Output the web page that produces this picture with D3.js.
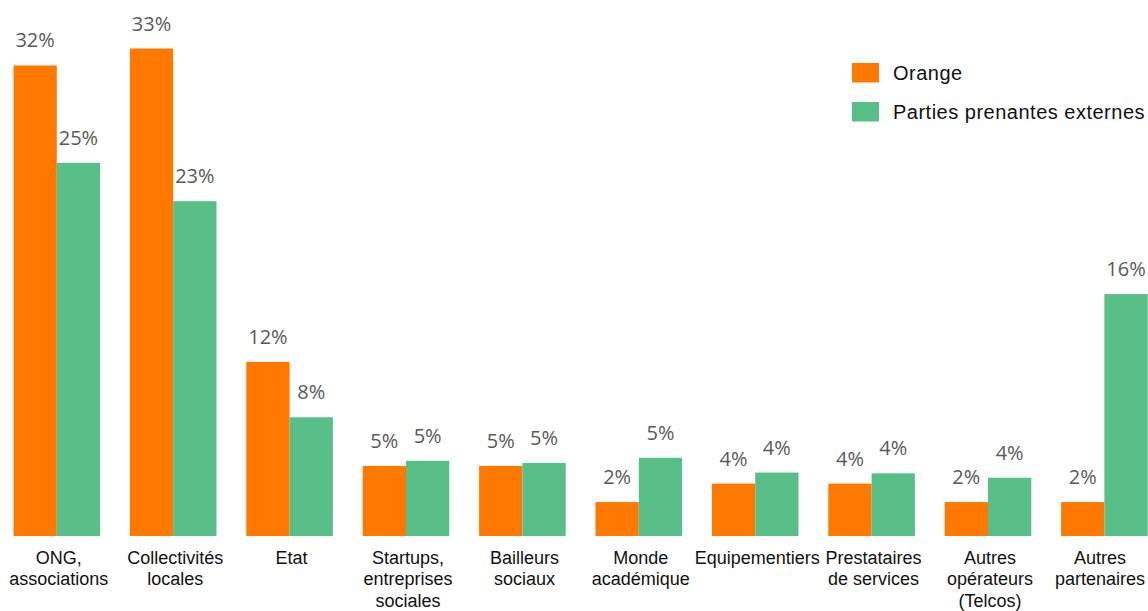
<!DOCTYPE html>
<html>
<head>
<meta charset="utf-8">
<script src="https://cdn.jsdelivr.net/npm/d3@7"></script>
<style>
  html, body { margin: 0; padding: 0; background: #fff; }
  svg { display: block; }
</style>
</head>
<body>
<svg id="chart" width="1148" height="611"></svg>
<script>
var categories = [
    "ONG,\nassociations",
    "Collectivités\nlocales",
    "Etat",
    "Startups,\nentreprises\nsociales",
    "Bailleurs\nsociaux",
    "Monde\nacadémique",
    "Equipementiers",
    "Prestataires\nde services",
    "Autres\nopérateurs\n(Telcos)",
    "Autres\npartenaires"
];

var seriesNames = ["Orange", "Parties prenantes externes"];
var seriesColors = ["#FF7900", "#58BF88"];

// (bar heights), labels are rounded
var orangeValues = [31.9, 33.05, 11.8, 4.75, 4.75, 2.3, 3.55, 3.55, 2.3, 2.3];
var externalValues = [25.3, 22.7, 8.05, 5.1, 4.95, 5.3, 4.3, 4.25, 3.95, 16.4];

var BASELINE = 536,
    TOP = 5,
    WIDTH = 1148;

var svg = d3.select('#chart');

var rows = categories.map(function (c, i) {
    return { cat: c, values: [orangeValues[i], externalValues[i]] };
});

var x0 = d3.scaleBand()
    .domain(categories)
    .range([13.5, 1147.7])
    .paddingInner(0.256)
    .paddingOuter(0);

var x1 = d3.scaleBand()
    .domain(d3.range(seriesNames.length))
    .range([0, x0.bandwidth()])
    .padding(0);

var y = d3.scaleLinear()
    .domain([0, 36])
    .range([BASELINE, TOP]);

var groups = svg.append('g').selectAll('g.group')
    .data(rows)
    .enter().append('g')
    .attr('class', 'group')
    .attr('transform', function (d) { return 'translate(' + x0(d.cat) + ',0)'; });

groups.selectAll('rect')
    .data(function (d) { return d.values; })
    .enter().append('rect')
    .attr('x', function (d, i) { return x1(i); })
    .attr('y', function (d) { return y(d); })
    .attr('width', x1.bandwidth())
    .attr('height', function (d) { return BASELINE - y(d); })
    .attr('fill', function (d, i) { return seriesColors[i]; });

groups.selectAll('text.val')
    .data(function (d) { return d.values; })
    .enter().append('text')
    .attr('class', 'val')
    .attr('x', function (d, i) { return x1(i) + x1.bandwidth() / 2; })
    .attr('y', function (d) { return y(d) - 18; })
    .attr('text-anchor', 'middle')
    .attr('font-family', '"Open Sans", sans-serif')
    .attr('font-size', 20)
    .attr('fill', '#595959')
    .text(function (d) { return Math.round(d) + '%'; });

//category labels, split on newlines
var catLabels = svg.append('g').selectAll('text.cat')
    .data(categories)
    .enter().append('text')
    .attr('class', 'cat')
    .attr('x', function (d) { return x0(d) + x0.bandwidth() / 2 + 2; })
    .attr('y', 564)
    .attr('text-anchor', 'middle')
    .attr('font-family', '"Liberation Sans", Arial, sans-serif')
    .attr('font-size', 18)
    .attr('fill', '#111');

catLabels.each(function (d) {
    var t = d3.select(this);
    var cx = +t.attr('x');
    var lines = d.split('\n');
    var spans = lines.map(function (line, k) {
        return t.append('tspan')
            .attr('x', cx)
            .attr('dy', k === 0 ? 0 : 21.3)
            .text(line);
    });
    // keep the widest line inside the right edge
    var maxW = d3.max(spans, function (s) { return s.node().getComputedTextLength(); });
    if (cx + maxW / 2 > WIDTH - 3) {
        var nx = WIDTH - 3 - maxW / 2;
        spans.forEach(function (s) { s.attr('x', nx); });
    }
});

// legend
var legend = svg.append('g').attr('transform', 'translate(852,63)');
var items = legend.selectAll('g')
    .data(seriesNames)
    .enter().append('g')
    .attr('transform', function (d, i) { return 'translate(0,' + (i * 39) + ')'; });

items.append('rect')
    .attr('width', 27)
    .attr('height', 19.5)
    .attr('fill', function (d, i) { return seriesColors[i]; });

items.append('text')
    .attr('x', 41)
    .attr('y', 16.5)
    .attr('font-family', '"Liberation Sans", Arial, sans-serif')
    .attr('font-size', 20)
    .attr('letter-spacing', 0.5)
    .attr('fill', '#111')
    .text(function (d) { return d; });
</script>
</body>
</html>
